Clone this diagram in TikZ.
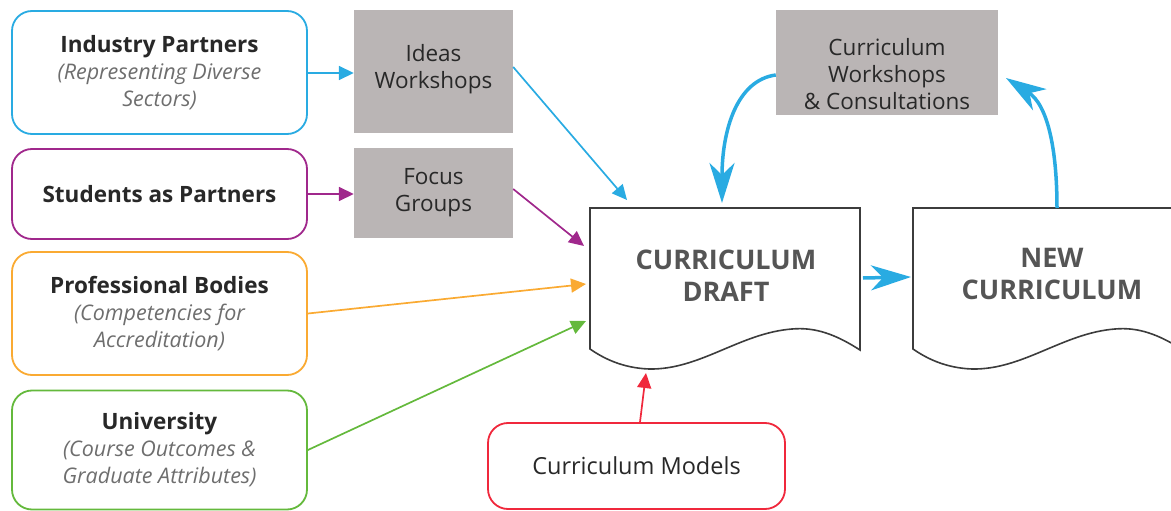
\documentclass[tikz,border=0pt]{standalone}
\usepackage{fontspec}
\setmainfont{Open Sans}
\usetikzlibrary{arrows.meta}
\definecolor{cblue}{RGB}{41,171,226}
\definecolor{cpurple}{RGB}{160,40,140}
\definecolor{corange}{RGB}{250,170,50}
\definecolor{cgreen}{RGB}{100,185,60}
\definecolor{cred}{RGB}{240,40,60}
\definecolor{cgrayfill}{RGB}{186,181,181}
\definecolor{ctext}{RGB}{40,40,40}
\definecolor{citalic}{RGB}{110,110,110}
\definecolor{cdoc}{RGB}{85,85,85}
\definecolor{cdocline}{RGB}{60,60,60}
\tikzset{
  partner/.style={draw, line width=1.8pt, rounded corners=20pt, fill=white,
    minimum width=295pt, align=center, text=ctext, inner sep=0pt,
    font=\fontsize{21.5}{27}\selectfont},
  method/.style={fill=cgrayfill, minimum width=159pt, inner sep=0pt},
  methodtext/.style={align=center, text=ctext, inner sep=0pt,
    font=\fontsize{22.5}{27}\selectfont},
  thin arrow/.style={line width=1.7pt, -{Triangle[length=15pt,width=14pt]}},
  big arrow/.style={cblue, line width=3.5pt, -{Stealth[length=40pt,width=25pt,inset=12pt]}},
  doctext/.style={text=cdoc, align=center, inner sep=0pt,
    font=\fontsize{27}{32}\selectfont\bfseries},
  docline/.style={draw=cdocline, line width=1.6pt, fill=white},
}
\newcommand{\ttl}[1]{{\fontsize{22.5}{27}\selectfont\bfseries #1}}
\newcommand{\sub}[1]{{\itshape\color{citalic}#1}}
\begin{document}
\begin{tikzpicture}[x=1pt,y=-1pt]
\useasboundingbox (0,0) rectangle (1171,511);
\clip (0,0) rectangle (1171,511);
% partner boxes
\node[partner, draw=cblue, minimum height=123pt] (ind) at (159.5,72.5)
  {\ttl{Industry Partners}\\\sub{(Representing Diverse}\\\sub{Sectors)}};
\node[partner, draw=cpurple, minimum height=90pt] (stu) at (159.5,194)
  {\ttl{Students as Partners}};
\node[partner, draw=corange, minimum height=123pt] (pro) at (159.5,313.5)
  {\ttl{Professional Bodies}\\\sub{(Competencies for}\\\sub{Accreditation)}};
\node[partner, draw=cgreen, minimum height=119pt] (uni) at (159.5,450)
  {\ttl{University}\\\sub{(Course Outcomes \&}\\\sub{Graduate Attributes)}};
\node[partner, draw=cred, minimum width=297pt, minimum height=86pt,
  font=\fontsize{23.5}{27}\selectfont] (mod) at (636.5,466) {Curriculum Models};
% method boxes
\node[method, minimum height=123pt] (ideas) at (433.5,71.5) {};
\node[methodtext] (ideasT) at (433.5,69) {Ideas\\Workshops};
\node[method, minimum height=90pt] (focus) at (433.5,193) {};
\node[methodtext] (focusT) at (433.5,193) {Focus\\Groups};
\node[method, minimum width=222pt, minimum height=105pt] (cws) at (887,62.5) {};
\node[methodtext] (cwsT) at (887,74.5) {Curriculum\\Workshops\\\& Consultations};
% documents
\draw[docline] (590,208) -- (860,208) -- (860,350)
  .. controls (835,334) and (815,327) .. (792,329)
  .. controls (740,333) and (700,370) .. (649,369)
  .. controls (622,368) and (603,358) .. (590,349) -- cycle;
\node[doctext] (draft) at (726,276) {CURRICULUM\\DRAFT};
\begin{scope}[xshift=323pt]
\draw[docline] (590,208) -- (860,208) -- (860,350)
  .. controls (835,334) and (815,327) .. (792,329)
  .. controls (740,333) and (700,370) .. (649,369)
  .. controls (622,368) and (603,358) .. (590,349) -- cycle;
\end{scope}
\node[doctext] (new) at (1052,274) {NEW\\CURRICULUM};
% coordinates near the documents
\coordinate (dIdeas) at (627,200);
\coordinate (dFocus) at (584,246);
\coordinate (dPro) at (586,284);
\coordinate (dUni) at (586,321);
\coordinate (dMod) at (646,373);
\coordinate (dTop) at (722,203);
\coordinate (draftR) at (863,278);
\coordinate (newL) at (911,277);
\coordinate (newTop) at (1057,208);
\coordinate (cwsR) at (1006,78);
% connectors
\draw[thin arrow, cblue] (ind.east |- 0,73) -- (ideas.west |- 0,73);
\draw[thin arrow, cpurple] (stu.east) -- (focus.west |- stu.east);
\draw[thin arrow, cblue] (ideas.east |- 0,67) -- (dIdeas);
\draw[thin arrow, cpurple] (focus.east |- 0,189) -- (dFocus);
\draw[thin arrow, corange] (pro.east) -- (dPro);
\draw[thin arrow, cgreen] (uni.east) -- (dUni);
\draw[thin arrow, cred] (mod.north -| 640,0) -- (dMod);
\draw[big arrow] (draftR) -- (newL);
\draw[big arrow] (cws.west |- 0,75) .. controls (737,80) and (722,130) .. (dTop);
\draw[big arrow] (newTop) .. controls (1057,150) and (1048,105) .. (cwsR);
\end{tikzpicture}
\end{document}
